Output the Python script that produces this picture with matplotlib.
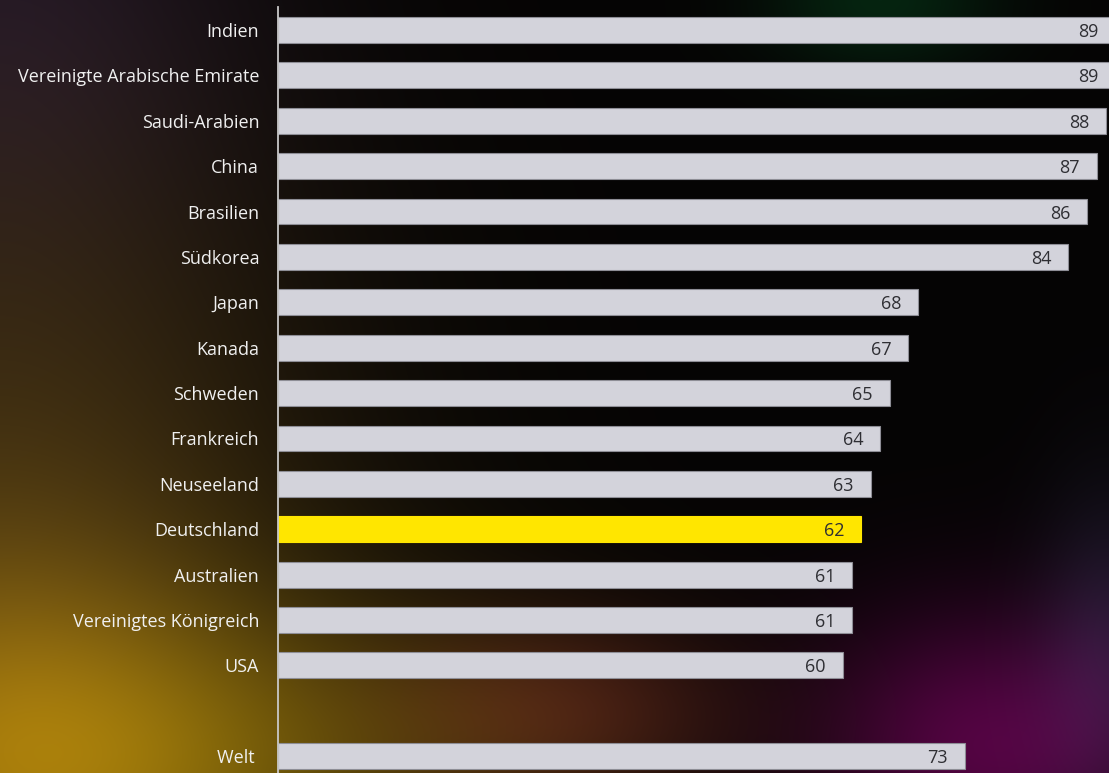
import numpy as np
import matplotlib
matplotlib.use("Agg")
import matplotlib.pyplot as plt

# Zustimmung in Prozent je Land
countries = ["Indien", "Vereinigte Arabische Emirate", "Saudi-Arabien", "China",
             "Brasilien", "Südkorea", "Japan", "Kanada", "Schweden", "Frankreich",
             "Neuseeland", "Deutschland", "Australien", "Vereinigtes Königreich",
             "USA", "Welt "]
values = [89, 89, 88, 87, 86, 84, 68, 67, 65, 64, 63, 62, 61, 61, 60, 73]
highlight = "Deutschland"

W, H = 1109, 773
fig = plt.figure(figsize=(W / 100, H / 100), dpi=100)

# dark background with soft colour glows
yy, xx = np.mgrid[0:H, 0:W]
bg = np.zeros((H, W, 3)) + np.array([5, 4, 4]) / 255.0

def glow(cx, cy, sx, sy, rgb):
    g = np.exp(-(((xx - cx) / sx) ** 2 + ((yy - cy) / sy) ** 2) / 2.0)
    return g[..., None] * (np.array(rgb) / 255.0)

bg += glow(0, 0, 180, 180, (22, 14, 30))
bg += glow(0, 500, 230, 280, (55, 40, 12))
bg += glow(0, 773, 190, 150, (110, 80, 0))
bg += glow(280, 760, 200, 110, (48, 42, 0))
bg += glow(560, 710, 130, 70, (55, 18, 15))
bg += glow(990, 745, 120, 95, (78, 0, 62))
bg += glow(1109, 640, 50, 110, (22, 20, 36))
bg += glow(880, 0, 80, 50, (0, 32, 12))
bg = np.clip(bg, 0, 1)

bgax = fig.add_axes([0, 0, 1, 1], zorder=0)
bgax.imshow(bg, aspect="auto", extent=(0, W, H, 0))
bgax.axis("off")

left = 278 / W
ax = fig.add_axes([left, 0, 1 - left, 1], zorder=1)
ax.patch.set_alpha(0)

pos = list(range(15)) + [16]
colors = ["#ffe600" if c == highlight else "#d3d3db" for c in countries]
edges = ["#ffe600" if c == highlight else "#8e8e96" for c in countries]
ax.barh(pos, values, height=0.57, color=colors, edgecolor=edges, linewidth=0.8)

for p, v in zip(pos, values):
    ax.annotate(str(v), (v, p), xytext=(-17, -2), textcoords="offset pixels",
                ha="right", va="center", fontsize=13, color="#2e2e33",
                family="Open Sans", annotation_clip=False)

ax.set_xlim(0, (W - 278) / 9.41)
ax.set_ylim(16.37, -0.66)
ax.set_xticks([])
ax.set_yticks(pos)
ax.set_yticklabels(countries, fontsize=13, color="#f0f0f0", family="Open Sans")
ax.tick_params(axis="y", length=0, pad=13.5)
for s in ["top", "right", "bottom"]:
    ax.spines[s].set_visible(False)
ax.spines["left"].set_color("#c8c8c8")
ax.spines["left"].set_linewidth(1.3)
ax.spines["left"].set_bounds(16.37, -0.5)

fig.savefig("out.png", dpi=100, facecolor="black")
